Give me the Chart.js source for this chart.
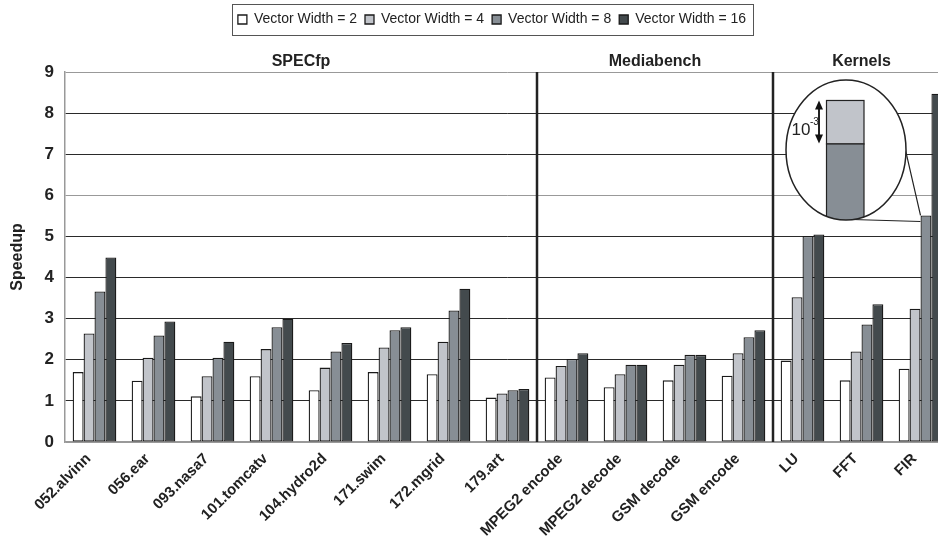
<!DOCTYPE html>
<html>
<head>
<meta charset="utf-8">
<script src="https://cdn.jsdelivr.net/npm/chart.js@4.4.1/dist/chart.umd.min.js"></script>
<style>
  html, body { margin: 0; padding: 0; background: #fff; overflow: hidden; }
  #wrap { position: relative; width: 972px; height: 542px; }
</style>
</head>
<body>
<div id="wrap"><canvas id="grafico"></canvas></div>
<script>
// benchmarks no eixo x
const categorias = [
    '052.alvinn', '056.ear', '093.nasa7', '101.tomcatv', '104.hydro2d', '171.swim',
    '172.mgrid', '179.art', 'MPEG2 encode', 'MPEG2 decode', 'GSM decode', 'GSM encode',
    'LU', 'FFT', 'FIR'
];

// speedup por largura de vetor
const largura2  = [1.70, 1.49, 1.11, 1.60, 1.26, 1.70, 1.65, 1.08, 1.57, 1.33, 1.50, 1.61, 1.98, 1.50, 1.78];
const largura4  = [2.64, 2.05, 1.60, 2.26, 1.81, 2.30, 2.44, 1.18, 1.85, 1.65, 1.88, 2.16, 3.52, 2.20, 3.24];
const largura8  = [3.66, 2.59, 2.05, 2.79, 2.20, 2.72, 3.20, 1.26, 2.02, 1.88, 2.12, 2.55, 5.01, 2.86, 5.51];
const largura16 = [4.49, 2.93, 2.44, 3.00, 2.41, 2.79, 3.73, 1.29, 2.16, 1.88, 2.12, 2.72, 5.05, 3.35, 8.47];

const series = ['Vector Width = 2', 'Vector Width = 4', 'Vector Width = 8', 'Vector Width = 16'];

// grupos de benchmarks (indice inicial e final)
const grupos = ['SPECfp', 'Mediabench', 'Kernels'];
const grupoInicio = [0, 8, 12];
const grupoFim = [7, 11, 14];

const SANS = "'Liberation Sans', Arial, sans-serif";

// separadores, titulos dos grupos, caixa da legenda e a lupa sobre o FIR
const decoracoes = {
    id: 'decoracoes',
    afterLayout(chart) {
        // a legenda do original fica um pouco a direita do centro
        chart.legend.left += 17;
        chart.legend.right += 17;
    },
    afterDatasetsDraw(chart) {
        const { ctx, chartArea, scales } = chart;
        const x = scales.x;
        ctx.save();

        // linhas verticais entre os grupos
        ctx.strokeStyle = '#222';
        ctx.lineWidth = 2.5;
        grupoInicio.slice(1).forEach(i => {
            const px = (x.getPixelForValue(i - 1) + x.getPixelForValue(i)) / 2;
            ctx.beginPath();
            ctx.moveTo(px, chartArea.top);
            ctx.lineTo(px, chartArea.bottom);
            ctx.stroke();
        });

        // lupa: ligada ao topo da barra Vector Width = 8 do FIR
        const barra = chart.getDatasetMeta(2).data[14];
        const bx = barra.x - barra.width / 2;
        const by = barra.y;
        const cx = bx - 74.5, cy = by - 65.5, rx = 60, ry = 70;

        ctx.lineWidth = 1.2;
        ctx.strokeStyle = '#222';
        ctx.beginPath();
        ctx.moveTo(bx - 18.5, by - 80.5);
        ctx.lineTo(bx, by);
        ctx.moveTo(bx - 68.5, by + 4);
        ctx.lineTo(bx, by + 6);
        ctx.stroke();

        ctx.save();
        ctx.beginPath();
        ctx.ellipse(cx, cy, rx, ry, 0, 0, Math.PI * 2);
        ctx.fillStyle = '#fff';
        ctx.fill();
        ctx.clip();
        ctx.lineWidth = 1.2;
        ctx.fillStyle = '#c1c4ca';
        ctx.fillRect(bx - 94, by - 115, 37.5, 43.5);
        ctx.strokeRect(bx - 94, by - 115, 37.5, 43.5);
        ctx.fillStyle = '#878e95';
        ctx.fillRect(bx - 94, by - 71.5, 37.5, 80);
        ctx.strokeRect(bx - 94, by - 71.5, 37.5, 80);
        ctx.restore();

        ctx.lineWidth = 1.5;
        ctx.beginPath();
        ctx.ellipse(cx, cy, rx, ry, 0, 0, Math.PI * 2);
        ctx.stroke();

        // seta dupla 10^-3
        const ax = bx - 101.5, a1 = by - 115, a2 = by - 72;
        ctx.fillStyle = '#111';
        ctx.lineWidth = 2;
        ctx.beginPath();
        ctx.moveTo(ax, a1 + 6);
        ctx.lineTo(ax, a2 - 6);
        ctx.stroke();
        ctx.beginPath();
        ctx.moveTo(ax, a1); ctx.lineTo(ax - 4, a1 + 9); ctx.lineTo(ax + 4, a1 + 9); ctx.closePath();
        ctx.moveTo(ax, a2); ctx.lineTo(ax - 4, a2 - 9); ctx.lineTo(ax + 4, a2 - 9); ctx.closePath();
        ctx.fill();

        ctx.fillStyle = '#222';
        ctx.textBaseline = 'alphabetic';
        ctx.textAlign = 'left';
        ctx.font = '17px ' + SANS;
        ctx.fillText('10', bx - 129, by - 80.5);
        ctx.font = '10px ' + SANS;
        ctx.fillText('-3', bx - 110.5, by - 90);
        ctx.restore();
    },
    afterDraw(chart) {
        const { ctx, scales } = chart;
        const x = scales.x;
        ctx.save();

        // titulos dos grupos
        ctx.fillStyle = '#222';
        ctx.font = 'bold 16px ' + SANS;
        ctx.textAlign = 'center';
        ctx.textBaseline = 'alphabetic';
        grupos.forEach((nome, g) => {
            const esq = x.getPixelForValue(grupoInicio[g]) - x.width / categorias.length / 2;
            const dir = x.getPixelForValue(grupoFim[g]) + x.width / categorias.length / 2;
            ctx.fillText(nome, (esq + dir) / 2, 66);
        });

        // moldura da legenda
        const caixas = chart.legend.legendHitBoxes;
        if (caixas && caixas.length) {
            const esq = Math.min(...caixas.map(b => b.left));
            const dir = Math.max(...caixas.map(b => b.left + b.width));
            ctx.strokeStyle = '#555';
            ctx.lineWidth = 1;
            ctx.strokeRect(Math.round(esq - 6) + 0.5, 4.5, Math.round(dir - esq + 13), 31);
        }
        ctx.restore();
    }
};

const cores = ['#ffffff', '#c1c4ca', '#878e95', '#434a4d'];
const valores = [largura2, largura4, largura8, largura16];

const ctx = document.getElementById('grafico').getContext('2d');
const grafico = new Chart(ctx, {
    type: 'bar',
    data: {
        labels: categorias,
        datasets: series.map((nome, i) => ({
            label: nome,
            data: valores[i],
            backgroundColor: cores[i],
            borderColor: '#1a1a1a',
            borderWidth: 1.3,
            borderSkipped: false,
            categoryPercentage: 0.74,
            barPercentage: 1.0
        }))
    },
    options: {
        responsive: true,
        maintainAspectRatio: false,
        animation: false,
        layout: {
            padding: { top: 4.5, right: 22, left: 0, bottom: 0 }
        },
        plugins: {
            legend: {
                position: 'top',
                weight: 3000,
                labels: {
                    boxWidth: 9,
                    boxHeight: 9,
                    padding: 8,
                    color: '#222',
                    font: { family: SANS, size: 14 }
                }
            },
            // so reserva o espaco dos titulos dos grupos
            title: {
                display: true,
                text: ' ',
                font: { size: 10 },
                padding: { top: 0, bottom: 23.5 }
            },
            tooltip: { enabled: false }
        },
        scales: {
            x: {
                grid: { display: false },
                border: { display: true, color: '#999', width: 1.5 },
                ticks: {
                    autoSkip: false,
                    minRotation: 45,
                    maxRotation: 45,
                    padding: 0,
                    labelOffset: -6,
                    color: '#222',
                    font: { family: SANS, size: 15, weight: 'bold' }
                },
                afterFit: (scale) => { scale.height = 100; }
            },
            y: {
                min: 0,
                max: 9,
                ticks: {
                    stepSize: 1,
                    padding: 11,
                    color: '#222',
                    font: { family: SANS, size: 17, weight: 'bold' }
                },
                grid: {
                    drawTicks: false,
                    color: (c) => (c.tick && (c.tick.value === 9 || c.tick.value === 6 || c.tick.value === 0)) ? '#999' : '#2a2a2a',
                    lineWidth: 1
                },
                border: { display: true, color: '#999', width: 1.5 },
                title: {
                    display: true,
                    text: 'Speedup',
                    color: '#222',
                    padding: { top: 8, bottom: 0 },
                    font: { family: SANS, size: 16, weight: 'bold' }
                },
                afterFit: (scale) => { scale.width = 65; }
            }
        }
    },
    plugins: [decoracoes]
});
</script>
</body>
</html>
